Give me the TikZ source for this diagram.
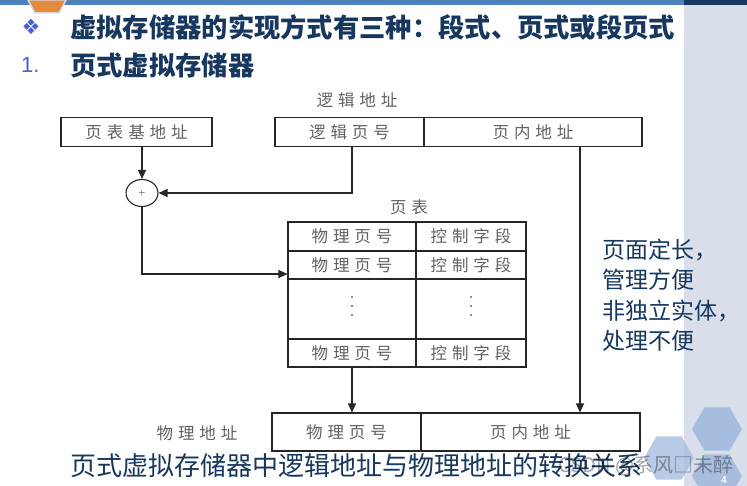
\documentclass[tikz,border=0pt]{standalone}
\usepackage{fontspec}
\usetikzlibrary{arrows.meta,shapes.geometric}
\setsansfont{Liberation Sans}
\newfontfamily\cjk{Noto Sans CJK SC}
\newfontfamily\cjkwide[LetterSpace=30]{Noto Sans CJK SC}
\newfontfamily\symfont{DejaVu Sans}
\newcommand\diagfont{\cjkwide\fontsize{16.5}{16.5}\selectfont}
\definecolor{navy}{HTML}{17375E}
\definecolor{barblue}{HTML}{4F81BD}
\definecolor{panel}{HTML}{D9DFEA}
\definecolor{hexblue}{HTML}{A7BDDF}
\definecolor{bulletblue}{HTML}{4A5FD0}
\definecolor{orangetab}{HTML}{E48A3C}

\begin{document}
\begin{tikzpicture}[x=1pt,y=-1pt,
    cell/.style={draw=black!85, line width=1.1pt, inner sep=0pt, minimum height=29pt, font=\diagfont, text=black!62},
    tag/.style={font=\diagfont, text=black!62, inner sep=0pt},
    link/.style={draw=black!85, line width=1.1pt, -{Triangle[length=9pt,width=8pt]}},
    hex/.style={regular polygon, regular polygon sides=6, minimum size=50pt, inner sep=0pt, fill=hexblue}]
  \useasboundingbox (0,0) rectangle (747,486);
  % slide background
  \fill[white] (0,0) rectangle (747,486);
  \fill[panel] (684,0) rectangle (747,486);
  \fill[barblue] (0,0) rectangle (684,5);
  \fill[navy] (684,0) rectangle (747,5);
  \filldraw[fill=orangetab, draw=black!15, line width=1.5pt] (28,0) -- (66,0) -- (59,13) -- (35,13) -- cycle;
  \node[hex] (hexa) at (717,429) {};
  \node[hex, fill opacity=.8] (hexb) at (669,458) {};
  \node[hex] (hexc) at (717,476) {};
  \node[text=white, font=\sffamily\bfseries\fontsize{10}{10}\selectfont] (pagenum) at (724,480) {4};

  % headings
  \node[text=bulletblue, font=\symfont\fontsize{21}{21}\selectfont] (bullet) at (31,27) {❖};
  \node[anchor=west, inner sep=0pt, text=navy, font=\cjk\bfseries\fontsize{26.3}{26.3}\selectfont] (title) at (70,27) {虚拟存储器的实现方式有三种：段式、页式或段页式};
  \node[anchor=west, inner sep=0pt, text=bulletblue, font=\sffamily\fontsize{22}{22}\selectfont] (num) at (21,65) {1.};
  \node[anchor=west, inner sep=0pt, text=navy, font=\cjk\bfseries\fontsize{26.3}{26.3}\selectfont] (subtitle) at (70,65) {页式虚拟存储器};

  % logical address
  \node[tag] (laddr) at (357,100) {逻辑地址};
  \node[cell, minimum width=151pt] (base) at (136.5,132) {页表基地址};
  \node[cell, minimum width=149pt] (lpage) at (349.5,132) {逻辑页号};
  \node[cell, minimum width=218pt] (loff) at (533,132) {页内地址};
  \node[draw=black!85, line width=1.1pt, ellipse, minimum width=32pt, minimum height=27pt, inner sep=0pt, font=\fontsize{9}{9}\selectfont] (sum) at (142,193) {+};

  % page table
  \node[tag] (ptlabel) at (409,207) {页表};
  \node[cell, minimum width=128pt] (r1a) at (352,236.5) {物理页号};
  \node[cell, minimum width=110pt] (r1b) at (471,236.5) {控制字段};
  \node[cell, minimum width=128pt, minimum height=28pt] (r2a) at (352,265) {物理页号};
  \node[cell, minimum width=110pt, minimum height=28pt] (r2b) at (471,265) {控制字段};
  \node[cell, minimum width=128pt, minimum height=60pt] (r3a) at (352,309) {};
  \node[cell, minimum width=110pt, minimum height=60pt] (r3b) at (471,309) {};
  \node[cell, minimum width=128pt, minimum height=28pt] (r4a) at (352,353) {物理页号};
  \node[cell, minimum width=110pt, minimum height=28pt] (r4b) at (471,353) {控制字段};
  \foreach \dy in {-9,0,9} {
    \fill[black!60] ([yshift=\dy pt+3pt]r3a.center) circle (1.1pt);
    \fill[black!60] ([yshift=\dy pt+3pt]r3b.center) circle (1.1pt);
  }

  % physical address
  \node[tag] (paddr) at (197,433) {物理地址};
  \node[cell, minimum width=149pt, minimum height=38pt] (ppage) at (346.5,432) {物理页号};
  \node[cell, minimum width=219pt, minimum height=38pt] (poff) at (530.5,432) {页内地址};

  % connectors
  \draw[link] (base.south -| sum.north) -- (sum.north);
  \draw[link] ([xshift=2.5pt]lpage.south) |- (sum.east);
  \draw[link] (sum.south) |- ([yshift=-9pt]r2a.west);
  \draw[link] (r4a.south) -- (r4a.south |- ppage.north);
  \draw[link] ([xshift=47pt]loff.south) -- ([xshift=47pt]loff.south |- poff.north);

  % notes
  \node[anchor=west, align=left, inner sep=0pt, text=navy, font=\cjk\fontsize{23}{30.5}\selectfont] (note) at (602,295) {页面定长，\\管理方便\\非独立实体，\\处理不便};
  \node[anchor=west, inner sep=0pt, text=navy, font=\cjk\fontsize{26}{26}\selectfont] (caption) at (70,466) {页式虚拟存储器中逻辑地址与物理地址的转换关系};
  \node[anchor=west, inner sep=0pt, text=black, text opacity=.35, font=\cjk\fontsize{20}{20}\selectfont] (mark) at (558,466) {CSDN @系风□未醉};
\end{tikzpicture}
\end{document}
